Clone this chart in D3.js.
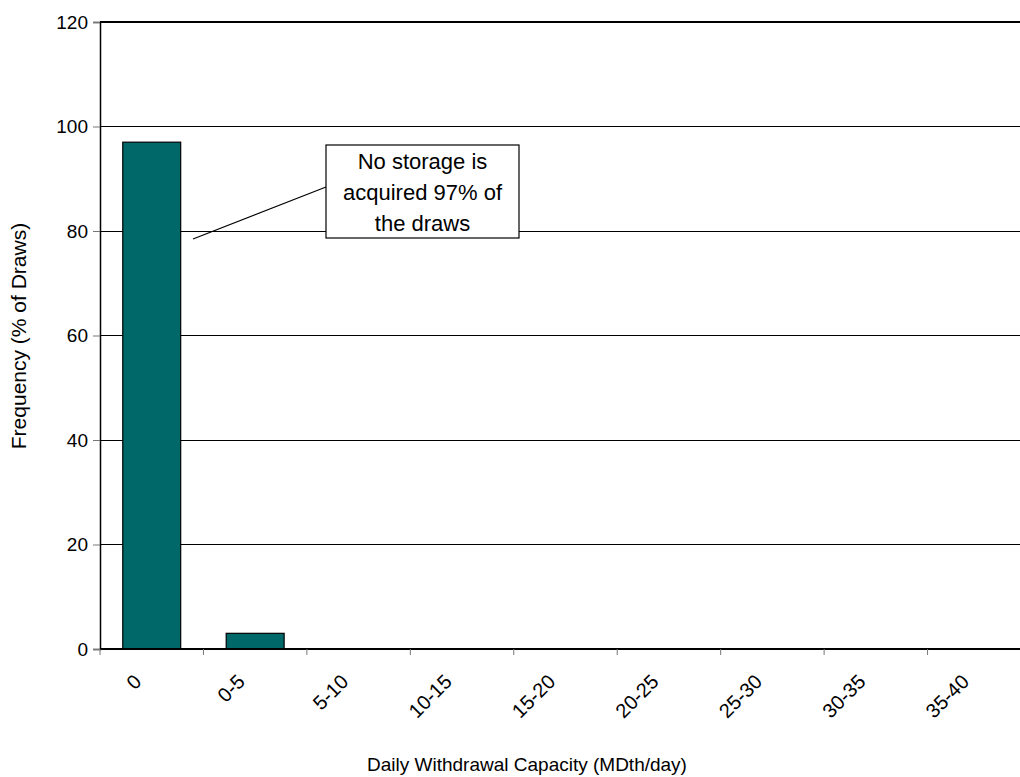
<!DOCTYPE html>
<html><head><meta charset="utf-8">
<script src="https://cdn.jsdelivr.net/npm/d3@7"></script>
<style>body{margin:0;background:#fff;}svg{display:block;font-family:"Liberation Sans",Arial,sans-serif;}</style>
</head><body>
<svg id="chart" width="1020" height="777"></svg>
<script>
const categories = ["0","0-5","5-10","10-15","15-20","20-25","25-30","30-35","35-40"];
const frequency = [97,3,0,0,0,0,0,0,0];
const yTicks = [0,20,40,60,80,100,120];
const annotationLines = ["No storage is","acquired 97% of","the draws"];

const svg = d3.select("#chart");
const m = {left:100, top:22, right:1031, bottom:649};
const x = d3.scaleBand().domain(categories).range([m.left, m.right]).paddingInner(0.44).paddingOuter(0.22);
const xEdges = d3.scaleLinear().domain([0, categories.length]).range([m.left, m.right]);
const y = d3.scaleLinear().domain([0,120]).range([m.bottom, m.top]);

// gridlines
svg.append("g").selectAll("line").data(yTicks.filter(t=>t>0 && t<120)).join("line")
  .attr("x1", m.left).attr("x2", m.right).attr("y1", d=>y(d)).attr("y2", d=>y(d))
  .attr("stroke","#000").attr("stroke-width",1).attr("shape-rendering","crispEdges");
svg.append("line").attr("x1",m.left).attr("x2",m.right).attr("y1",y(120)).attr("y2",y(120))
  .attr("stroke","#000").attr("stroke-width",2);

// y axis
const yAxis = svg.append("g").attr("transform",`translate(${m.left},0)`)
  .call(d3.axisLeft(y).tickValues(yTicks).tickSize(7).tickPadding(5));
yAxis.select(".domain").attr("stroke","#000").attr("stroke-width",1.5);
yAxis.selectAll(".tick line").attr("stroke","#777");
yAxis.selectAll(".tick text").attr("font-size",19).attr("fill","#000").attr("font-family","Liberation Sans, Arial, sans-serif");

// bars
svg.append("g").selectAll("rect").data(categories.map((c,i)=>({c,v:frequency[i]})).filter(d=>d.v>0)).join("rect")
  .attr("x", d=>x(d.c)).attr("width", x.bandwidth())
  .attr("y", d=>y(d.v)).attr("height", d=>y(0)-y(d.v))
  .attr("fill","#006868").attr("stroke","#000").attr("stroke-width",1.2);

// x axis
svg.append("line").attr("x1",m.left).attr("x2",m.right).attr("y1",y(0)).attr("y2",y(0))
  .attr("stroke","#000").attr("stroke-width",2);
svg.append("g").selectAll("line").data(d3.range(categories.length)).join("line")
  .attr("x1", i=>xEdges(i)).attr("x2", i=>xEdges(i)).attr("y1", y(0)).attr("y2", y(0)+6)
  .attr("stroke","#777").attr("stroke-width",1);
svg.append("g").selectAll("text").data(categories).join("text")
  .attr("transform", d=>`translate(${x(d)+x.bandwidth()/2-9},${y(0)+34}) rotate(-45)`)
  .attr("text-anchor","end").attr("font-size",20).attr("fill","#000").text(d=>d);

// axis titles
svg.append("text").attr("x", 527).attr("y", 771).attr("text-anchor","middle")
  .attr("font-size",19).text("Daily Withdrawal Capacity (MDth/day)");
svg.append("text").attr("transform","translate(26,336) rotate(-90)").attr("text-anchor","middle")
  .attr("font-size",21).text("Frequency (% of Draws)");

// annotation
svg.append("line").attr("x1",193).attr("y1",239).attr("x2",326).attr("y2",187).attr("stroke","#000").attr("stroke-width",1.2);
svg.append("rect").attr("x",326).attr("y",145).attr("width",193).attr("height",93)
  .attr("fill","#fff").attr("stroke","#000").attr("stroke-width",1.2);
svg.append("g").selectAll("text").data(annotationLines).join("text")
  .attr("x",422.5).attr("y",(d,i)=>169+i*31).attr("text-anchor","middle").attr("font-size",22).text(d=>d);
</script>
</body></html>
